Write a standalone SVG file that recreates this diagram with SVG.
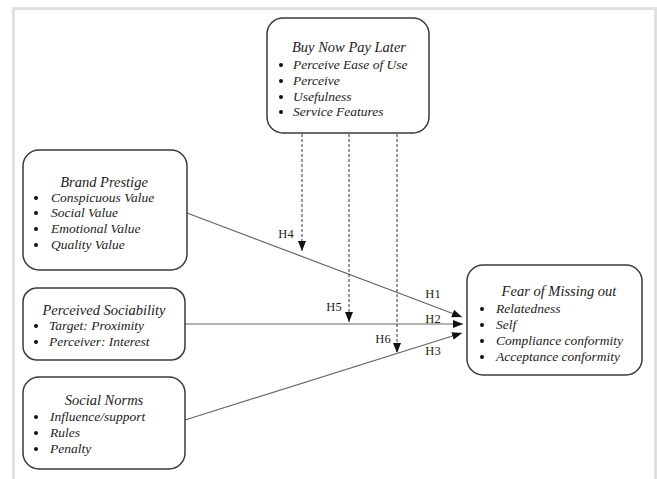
<svg xmlns="http://www.w3.org/2000/svg" width="657" height="479" viewBox="0 0 657 479">
<style>
.box{fill:#fff;stroke:#3a3a3a;stroke-width:1.5}
.t{font-family:"Liberation Serif","Times New Roman",serif;font-style:italic;font-size:13.5px;fill:#222}
.ti{font-family:"Liberation Serif","Times New Roman",serif;font-style:italic;font-size:14.5px;fill:#222}
.h{font-family:"Liberation Serif","Times New Roman",serif;font-size:12.5px;fill:#222}
.solid{stroke:#666;stroke-width:1.2;fill:none}
.dash{stroke:#333;stroke-width:1;stroke-dasharray:3,2;fill:none}
.bul{fill:#111}
</style>
<defs>
<marker id="ah" markerWidth="10" markerHeight="8" refX="10" refY="4" orient="auto" markerUnits="userSpaceOnUse">
<path d="M0,0 L10,4 L0,8 Z" fill="#111"/>
</marker>
</defs>
<rect x="0" y="0" width="657" height="479" fill="#fff"/>
<path d="M13.5,479 V8.5 H655.5 V479" fill="none" stroke="#e0e0e0" stroke-width="3"/>

<g id="connectors">
<line class="solid" x1="187" y1="213" x2="462" y2="317" marker-end="url(#ah)"/>
<line class="solid" x1="185" y1="324" x2="463" y2="324" marker-end="url(#ah)"/>
<line class="solid" x1="185" y1="420" x2="462" y2="333" marker-end="url(#ah)"/>
<line class="dash" x1="302" y1="134" x2="302" y2="251" marker-end="url(#ah)"/>
<line class="dash" x1="349" y1="134" x2="349" y2="322" marker-end="url(#ah)"/>
<line class="dash" x1="397" y1="134" x2="397" y2="353" marker-end="url(#ah)"/>
<text class="h" x="286" y="238" text-anchor="middle">H4</text>
<text class="h" x="334" y="311" text-anchor="middle">H5</text>
<text class="h" x="383" y="343" text-anchor="middle">H6</text>
<text class="h" x="433" y="298" text-anchor="middle">H1</text>
<text class="h" x="433" y="323" text-anchor="middle">H2</text>
<text class="h" x="433" y="355" text-anchor="middle">H3</text>
</g>

<g id="bnpl">
<rect class="box" x="267" y="18" width="162" height="115" rx="16"/>
<text class="ti" x="349" y="52" text-anchor="middle">Buy Now Pay Later</text>
<circle class="bul" cx="281" cy="65" r="2"/><text class="t" x="293" y="69">Perceive Ease of Use</text>
<circle class="bul" cx="281" cy="81" r="2"/><text class="t" x="293" y="85">Perceive</text>
<circle class="bul" cx="281" cy="97" r="2"/><text class="t" x="293" y="101">Usefulness</text>
<circle class="bul" cx="281" cy="112" r="2"/><text class="t" x="293" y="116">Service Features</text>
</g>

<g id="brand-prestige">
<rect class="box" x="23" y="150" width="164" height="120" rx="16"/>
<text class="ti" x="104" y="187" text-anchor="middle">Brand Prestige</text>
<circle class="bul" cx="36" cy="198" r="2"/><text class="t" x="51" y="202">Conspicuous Value</text>
<circle class="bul" cx="36" cy="213" r="2"/><text class="t" x="51" y="217">Social Value</text>
<circle class="bul" cx="36" cy="229" r="2"/><text class="t" x="51" y="233">Emotional Value</text>
<circle class="bul" cx="36" cy="245" r="2"/><text class="t" x="51" y="249">Quality Value</text>
</g>

<g id="perceived-sociability">
<rect class="box" x="23" y="288" width="162" height="72" rx="14"/>
<text class="ti" x="104" y="315" text-anchor="middle">Perceived Sociability</text>
<circle class="bul" cx="36" cy="326" r="2"/><text class="t" x="49" y="330">Target: Proximity</text>
<circle class="bul" cx="36" cy="342" r="2"/><text class="t" x="49" y="346">Perceiver: Interest</text>
</g>

<g id="social-norms">
<rect class="box" x="23" y="377" width="162" height="92" rx="16"/>
<text class="ti" x="104" y="405" text-anchor="middle">Social Norms</text>
<circle class="bul" cx="36" cy="417" r="2"/><text class="t" x="50" y="421">Influence/support</text>
<circle class="bul" cx="36" cy="433" r="2"/><text class="t" x="50" y="437">Rules</text>
<circle class="bul" cx="36" cy="449" r="2"/><text class="t" x="50" y="453">Penalty</text>
</g>

<g id="fomo">
<rect class="box" x="467" y="265" width="175" height="110" rx="16"/>
<text class="ti" x="559" y="296" text-anchor="middle">Fear of Missing out</text>
<circle class="bul" cx="482" cy="309" r="2"/><text class="t" x="496" y="313">Relatedness</text>
<circle class="bul" cx="482" cy="325" r="2"/><text class="t" x="496" y="329">Self</text>
<circle class="bul" cx="482" cy="341" r="2"/><text class="t" x="496" y="345">Compliance conformity</text>
<circle class="bul" cx="482" cy="357" r="2"/><text class="t" x="496" y="361">Acceptance conformity</text>
</g>
</svg>
